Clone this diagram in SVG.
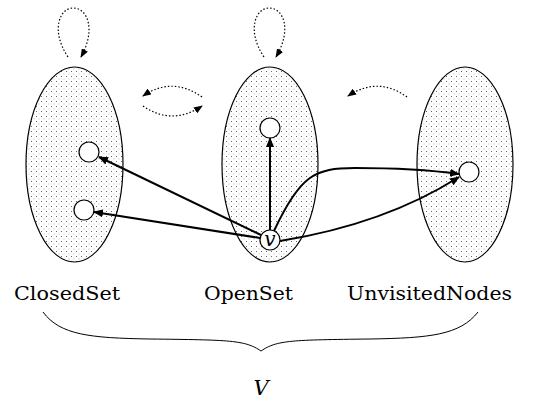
<svg xmlns="http://www.w3.org/2000/svg" width="541" height="399" viewBox="0 0 541 399">
  <defs>
    <pattern id="dots" width="5" height="5" patternUnits="userSpaceOnUse">
      <rect x="1" y="1" width="1" height="1" fill="#666"/>
      <rect x="3.5" y="3.5" width="1" height="1" fill="#bbb"/>
    </pattern>
    <marker id="head" viewBox="0 0 10 8" refX="9" refY="4" markerWidth="10" markerHeight="8" markerUnits="userSpaceOnUse" orient="auto">
      <path d="M0,0 L10,4 L0,8 Z" fill="#000"/>
    </marker>
    <marker id="dhead" viewBox="0 0 9 7" refX="8" refY="3.5" markerWidth="9" markerHeight="7" markerUnits="userSpaceOnUse" orient="auto">
      <path d="M0,0 L9,3.5 L0,7 Z" fill="#000"/>
    </marker>
  </defs>
  <style>
    .set { fill: url(#dots); stroke: #000; stroke-width: 1.2; }
    .pt { fill: #fff; stroke: #000; stroke-width: 1.2; }
    .edge { fill: none; stroke: #000; stroke-width: 2; marker-end: url(#head); }
    .flow { fill: none; stroke: #000; stroke-width: 1.2; stroke-dasharray: 1.5 2; marker-end: url(#dhead); }
    .lbl { font-family: "DejaVu Serif", "Liberation Serif", serif; font-size: 19px; fill: #000; }
    .var { font-family: "DejaVu Serif", "Liberation Serif", serif; font-style: italic; fill: #000; }
  </style>

  <!-- the three sets -->
  <g id="closed-set">
    <ellipse class="set" cx="74.5" cy="164.5" rx="48.5" ry="97.5"/>
    <circle class="pt" cx="89" cy="152" r="10"/>
    <circle class="pt" cx="84" cy="210" r="10"/>
  </g>
  <g id="open-set">
    <ellipse class="set" cx="270" cy="164.5" rx="48" ry="97.5"/>
    <circle class="pt" cx="270" cy="128" r="10"/>
  </g>
  <g id="unvisited-nodes">
    <ellipse class="set" cx="465" cy="164.5" rx="48" ry="97.5"/>
    <circle class="pt" cx="469" cy="172" r="10"/>
  </g>

  <!-- edges leaving v -->
  <g id="connectors">
    <path class="edge" d="M261,235 L99,157"/>
    <path class="edge" d="M260,238 L94,212"/>
    <path class="edge" d="M270,230 L270,138"/>
    <path class="edge" d="M274,231 C300,175 315,168 355,168 C400,168 430,170 459,174"/>
    <path class="edge" d="M280,241 Q385,224 459,177"/>

    <!-- dotted flow between sets -->
    <path class="flow" d="M68,57 C50,30 60,8 73,8 C88,8 96,30 81,57"/>
    <path class="flow" d="M264,57 C246,30 256,8 269,8 C284,8 292,30 276,57"/>
    <path class="flow" d="M202,97 Q172,76 143,96"/>
    <path class="flow" d="M143,106 Q172,126 202,106"/>
    <path class="flow" d="M407,97 Q378,76 348,96"/>

    <!-- brace under the labels -->
    <path d="M43,312 C60,335 90,338 150,339 C230,340 245,340 261,351 C277,340 292,340 370,339 C430,338 460,335 478,312" fill="none" stroke="#000" stroke-width="1"/>
  </g>

  <g id="node-v">
    <circle class="pt" cx="270" cy="240" r="10"/>
    <text class="var" x="270" y="246" font-size="20" text-anchor="middle">v</text>
  </g>

  <g id="labels">
    <text class="lbl" x="14" y="300" textLength="106" lengthAdjust="spacingAndGlyphs">ClosedSet</text>
    <text class="lbl" x="204" y="300" textLength="89" lengthAdjust="spacingAndGlyphs">OpenSet</text>
    <text class="lbl" x="347" y="300" textLength="165" lengthAdjust="spacingAndGlyphs">UnvisitedNodes</text>
    <text class="var" x="261" y="395" font-size="21" text-anchor="middle">V</text>
  </g>
</svg>
